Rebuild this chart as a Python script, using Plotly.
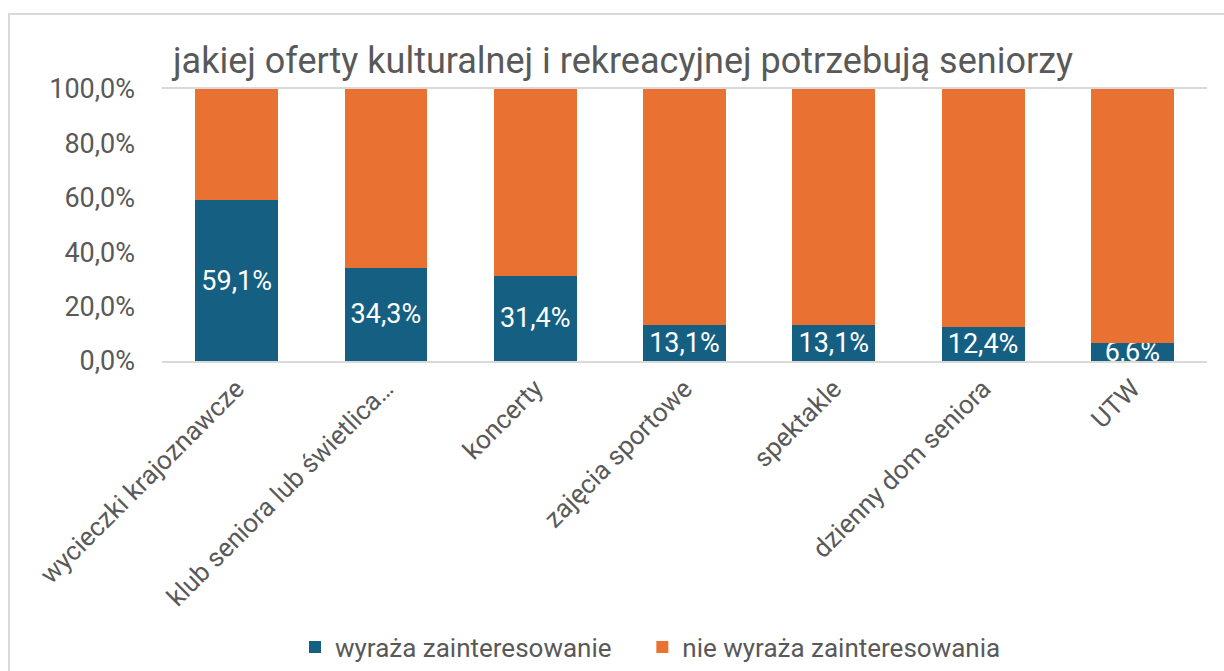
import plotly.graph_objects as go

categories = ["wycieczki krajoznawcze", "klub seniora lub świetlica…", "koncerty",
              "zajęcia sportowe", "spektakle", "dzienny dom seniora", "UTW"]
interested = [59.1, 34.3, 31.4, 13.1, 13.1, 12.4, 6.6]
not_interested = [round(100 - v, 1) for v in interested]
tick_vals = [0, 20, 40, 60, 80, 100]
tick_text = ["0,0%", "20,0%", "40,0%", "60,0%", "80,0%", "100,0%"]
series_names = ["wyraża zainteresowanie", "nie wyraża zainteresowania"]

FONT = "Roboto, 'Open Sans', sans-serif"
GRAY = "#595959"

def pl(v):
    return f"{v:.1f}".replace(".", ",") + "%"

fig = go.Figure()
fig.add_trace(go.Bar(
    x=categories, y=interested, name=series_names[0] + "\u00a0" * 4,
    marker=dict(color="#156082", line=dict(width=0)),
    text=[pl(v) for v in interested], textposition="inside",
    insidetextanchor="middle", constraintext="none",
    textfont=dict(color="white", size=27, family=FONT),
    hoverinfo="skip",
))
fig.add_trace(go.Bar(
    x=categories, y=not_interested, name=series_names[1],
    marker=dict(color="#E97132", line=dict(width=0)),
    hoverinfo="skip",
))

W, H = 1224, 671
L, R, T, B = 162, 17, 89, 310
pw, ph = W - L - R, H - T - B

fig.update_layout(
    barmode="stack", bargap=0.445,
    width=W, height=H,
    paper_bgcolor="white", plot_bgcolor="white",
    margin=dict(l=L, r=R, t=T, b=B),
    font=dict(family=FONT, color=GRAY, size=24),
    title=dict(text="jakiej oferty kulturalnej i rekreacyjnej potrzebują seniorzy",
               x=(623) / W, xanchor="center", y=1 - 60 / H, yanchor="middle",
               font=dict(size=36, color=GRAY, family=FONT)),
    showlegend=True,
    legend=dict(orientation="h", xref="container", yref="container",
                x=(295) / W, xanchor="left",
                y=1 - 647 / H, yanchor="middle",
                font=dict(size=26, color=GRAY), traceorder="normal",
                itemwidth=30),
)
fig.update_xaxes(showgrid=False, showline=True, linecolor="#D9D9D9", linewidth=2,
                 mirror=True, tickangle=-45, ticks="", automargin=False,
                 tickfont=dict(size=26, color=GRAY, family=FONT))
fig.update_yaxes(range=[0, 100], tickvals=tick_vals, ticktext=tick_text,
                 showgrid=False, zeroline=False, showline=False, ticks="",
                 automargin=False, ticklabelstandoff=26,
                 tickfont=dict(size=27, color=GRAY, family=FONT))

# chart border (Excel chart area)
fig.add_shape(type="rect", xref="paper", yref="paper",
              x0=(9 - L) / pw, x1=(W + 20 - L) / pw,
              y0=-(H + 20 - T - ph) / ph, y1=1 + (T - 14) / ph,
              line=dict(color="#D9D9D9", width=2), fillcolor="rgba(0,0,0,0)", layer="below")

fig.write_html("out.html", config={"displayModeBar": False},
               post_script="document.body.style.margin='0';")
